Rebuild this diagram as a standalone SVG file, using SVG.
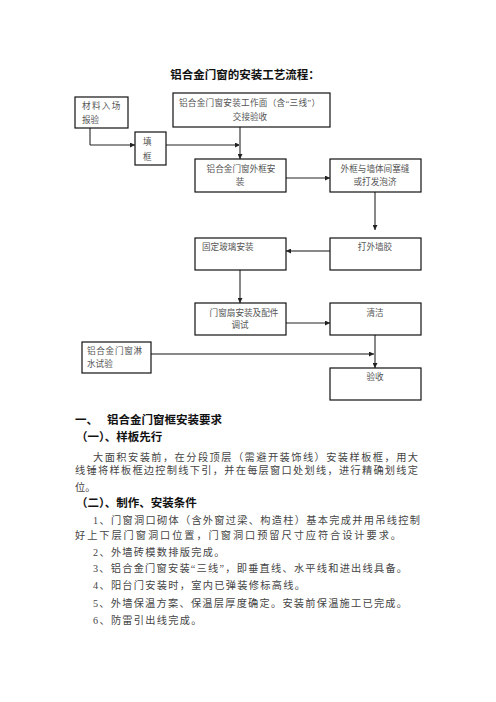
<svg xmlns="http://www.w3.org/2000/svg" width="496" height="702" viewBox="0 0 496 702">
<style>
.box{fill:#fff;stroke:#111;stroke-width:1.2}
.nt{font-family:"Liberation Serif","Noto Sans CJK SC",serif;font-size:8.6px;fill:#555}
.hd{font-family:"Liberation Serif","Noto Sans CJK SC",serif;font-weight:bold;fill:#111}
.bt{font-family:"Liberation Serif","Noto Sans CJK SC",serif;font-size:10.2px;fill:#444}
.g{stroke:#888;stroke-width:2;fill:none}
.k{stroke:#222;stroke-width:1;fill:none}
</style>
<defs>
<marker id="ah" viewBox="0 0 10 10" refX="10" refY="5" markerWidth="5" markerHeight="5" markerUnits="userSpaceOnUse" orient="auto">
<path d="M0,0 L10,5 L0,10 z" fill="#222"/>
</marker>
</defs>
<rect width="496" height="702" fill="#fff"/>
<text class="hd" x="245" y="79" font-size="11.5" text-anchor="middle">铝合金门窗的安装工艺流程：</text>

<g id="connectors">
<polyline class="g" points="90,128 90,145"/>
<line class="k" x1="90" y1="145" x2="135" y2="145" marker-end="url(#ah)"/>
<line class="k" x1="166" y1="145" x2="240" y2="145" marker-end="url(#ah)"/>
<line class="g" x1="240" y1="127" x2="240" y2="159" marker-end="url(#ah)"/>
<line class="k" x1="286" y1="178" x2="330" y2="178" marker-end="url(#ah)"/>
<line class="g" x1="375" y1="192" x2="375" y2="230" marker-end="url(#ah)"/>
<line class="g" stroke-width="1.4" x1="330" y1="251" x2="286" y2="251" marker-end="url(#ah)"/>
<line class="g" x1="240" y1="270" x2="240" y2="303" marker-end="url(#ah)"/>
<line class="k" x1="286" y1="323" x2="330" y2="323" marker-end="url(#ah)"/>
<line class="g" x1="375" y1="335" x2="375" y2="368" marker-end="url(#ah)"/>
<line class="g" stroke-width="1.4" x1="151" y1="354" x2="374" y2="354" marker-end="url(#ah)"/>
</g>

<g id="n1"><rect class="box" x="75" y="97" width="53" height="31"/>
<text class="nt" x="82" y="109" letter-spacing="1.3">材料入场</text>
<text class="nt" x="82" y="123">报验</text></g>

<g id="n2"><rect class="box" x="173" y="93" width="157" height="34"/>
<text class="nt" x="179" y="106" textLength="141" lengthAdjust="spacing">铝合金门窗安装工作面（含“三线”）</text>
<text class="nt" x="250" y="120" text-anchor="middle">交接验收</text></g>

<g id="n3"><rect class="box" x="135" y="132" width="31" height="33"/>
<text class="nt" x="143" y="145">填</text>
<text class="nt" x="143" y="160">框</text></g>

<g id="n4"><rect class="box" x="195" y="159" width="91" height="33"/>
<text class="nt" x="241" y="172" text-anchor="middle">铝合金门窗外框安</text>
<text class="nt" x="240" y="185" text-anchor="middle">装</text></g>

<g id="n5"><rect class="box" x="330" y="159" width="91" height="33"/>
<text class="nt" x="375" y="172" text-anchor="middle">外框与墙体间塞缝</text>
<text class="nt" x="375" y="185" text-anchor="middle">或打发泡济</text></g>

<g id="n6"><rect class="box" x="330" y="238" width="91" height="32"/>
<text class="nt" x="375" y="250" text-anchor="middle">打外墙胶</text></g>

<g id="n7"><rect class="box" x="195" y="238" width="91" height="32"/>
<text class="nt" x="202" y="250">固定玻璃安装</text></g>

<g id="n8"><rect class="box" x="195" y="303" width="91" height="32"/>
<text class="nt" x="244" y="316" text-anchor="middle">门窗扇安装及配件</text>
<text class="nt" x="240" y="328" text-anchor="middle">调试</text></g>

<g id="n9"><rect class="box" x="330" y="303" width="91" height="32"/>
<text class="nt" x="375" y="316" text-anchor="middle">清洁</text></g>

<g id="n10"><rect class="box" x="82" y="342" width="69" height="31"/>
<text class="nt" x="87" y="354" letter-spacing="0.7">铝合金门窗淋</text>
<text class="nt" x="87" y="367">水试验</text></g>

<g id="n11"><rect class="box" x="330" y="368" width="91" height="32"/>
<text class="nt" x="375" y="380" text-anchor="middle">验收</text></g>

<text class="hd" x="75" y="424" font-size="11.5">一、</text>
<text class="hd" x="107" y="424" font-size="11.5">铝合金门窗框安装要求</text>
<text class="hd" x="76" y="441" font-size="11.5">（一）、样板先行</text>
<text class="bt" x="93" y="461" textLength="325" lengthAdjust="spacing">大面积安装前，在分段顶层（需避开装饰线）安装样板框，用大</text>
<text class="bt" x="75" y="474" textLength="343" lengthAdjust="spacing">线锤将样板框边控制线下引，并在每层窗口处划线，进行精确划线定</text>
<text class="bt" x="75" y="491">位。</text>
<text class="hd" x="76" y="507" font-size="11.5">（二）、制作、安装条件</text>
<text class="bt" x="93" y="524" textLength="327" lengthAdjust="spacing">1、门窗洞口砌体（含外窗过梁、构造柱）基本完成并用吊线控制</text>
<text class="bt" x="75" y="539" textLength="326" lengthAdjust="spacing">好上下层门窗洞口位置，门窗洞口预留尺寸应符合设计要求。</text>
<text class="bt" x="93" y="556" letter-spacing="1.3">2、外墙砖模数排版完成。</text>
<text class="bt" x="93" y="572" textLength="314" lengthAdjust="spacing">3、铝合金门窗安装“三线”，即垂直线、水平线和进出线具备。</text>
<text class="bt" x="93" y="589" letter-spacing="1.3">4、阳台门安装时，室内已弹装修标高线。</text>
<text class="bt" x="93" y="607" textLength="314" lengthAdjust="spacing">5、外墙保温方案、保温层厚度确定。安装前保温施工已完成。</text>
<text class="bt" x="93" y="624" letter-spacing="1.3">6、防雷引出线完成。</text>
</svg>
